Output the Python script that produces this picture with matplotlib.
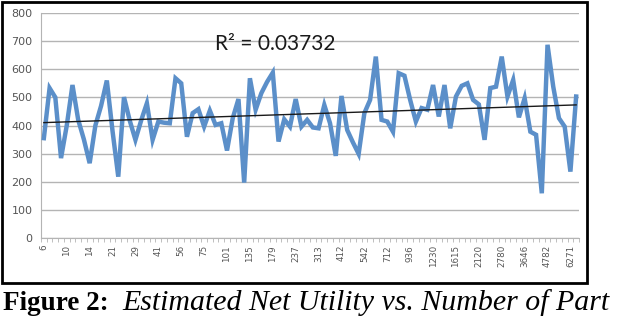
import numpy as np
import matplotlib.pyplot as plt
from matplotlib.patches import Rectangle

# estimated net utility, one value per participant-count category
utility = [355, 533, 500, 284, 400, 544, 420, 350, 266, 400,
           470, 560, 380, 218, 501, 418, 349, 418, 479, 349,
           414, 410, 408, 568, 550, 360, 444, 458, 396, 453,
           402, 408, 311, 426, 494, 197, 568, 456, 515, 555,
           588, 343, 422, 396, 494, 396, 420, 393, 390, 473,
           408, 292, 505, 384, 340, 299, 444, 491, 645, 420,
           414, 378, 586, 577, 491, 414, 462, 456, 544, 432,
           544, 390, 503, 541, 550, 491, 475, 349, 533, 538,
           645, 503, 562, 429, 497, 378, 367, 159, 687, 538,
           426, 396, 236, 503]
# every 4th category is labelled on the axis
tick_labels = ['6', '10', '14', '21', '29', '41', '56', '75', '101', '135',
               '179', '237', '313', '412', '542', '712', '936', '1230',
               '1615', '2120', '2780', '3646', '4782', '6271']
y_ticks = [0, 100, 200, 300, 400, 500, 600, 700, 800]
r2_text = 'R² = 0.03732'

x = np.arange(len(utility))

fig = plt.figure(figsize=(6.22, 3.18), dpi=100)
ax = fig.add_axes([41/622, 80/318, 538/622, 225/318])

# linear trend line
k, b = np.polyfit(x, utility, 1)

ax.plot(x, utility, color='#5B8FC9', lw=3.2, solid_joinstyle='miter', zorder=3)
ax.plot(x, k*x + b, color='#1a1a1a', lw=1.0, zorder=4)

ax.set_xlim(-0.5, len(utility) - 0.5)
ax.set_ylim(0, 800)
ax.set_yticks(y_ticks)
ax.set_yticklabels([str(v) for v in y_ticks], fontsize=8, color='#555555')
ax.tick_params(axis='y', length=0, pad=6)
ax.yaxis.grid(True, color='#b4b4b4', lw=1.0)
ax.set_axisbelow(True)

ax.set_xticks(x[::4])
ax.set_xticklabels(tick_labels, rotation=90, fontsize=6.3, color='#555555')
ax.set_xticks(np.arange(-0.5, len(utility)), minor=True)
ax.tick_params(axis='x', which='major', length=0, pad=5)
ax.tick_params(axis='x', which='minor', length=3, color='#b4b4b4')

for s in ['top', 'right']:
    ax.spines[s].set_visible(False)
ax.spines['left'].set_color('#b4b4b4')
ax.spines['bottom'].set_color('#b4b4b4')

ax.text(40.5, 690, r2_text, ha='center', va='center', fontsize=15,
        family='Lato', color='#1a1a1a')

# black frame round the chart
fig.add_artist(Rectangle((1.5/622, 35.5/318), 585/622, 281/318,
                         transform=fig.transFigure, fill=False,
                         edgecolor='black', lw=2.0))

cap = fig.text(3/622, 8/318, 'Figure 2:  ', fontsize=19.5, weight='bold',
               family='Liberation Serif', va='baseline')
ax.annotate('Estimated Net Utility vs. Number of Part', xy=(1, 0),
            xycoords=cap, va='bottom', fontsize=21.5, style='italic',
            family='Liberation Serif', annotation_clip=False)

fig.savefig('out.png', dpi=100)
